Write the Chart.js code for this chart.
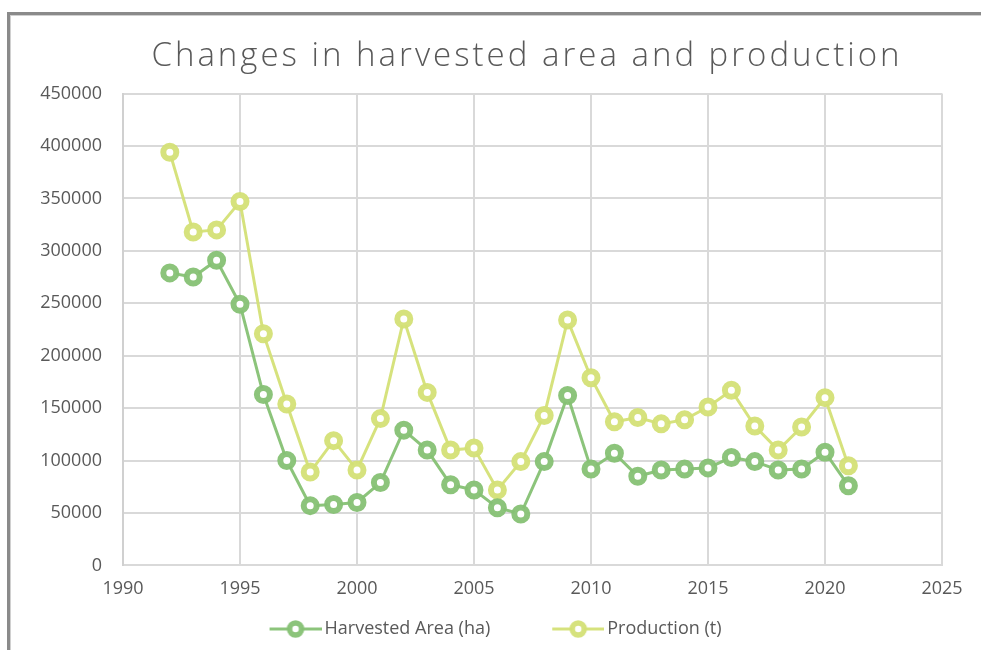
<!DOCTYPE html>
<html>
<head>
<meta charset="utf-8">
<script src="https://cdn.jsdelivr.net/npm/chart.js@4.4.1/dist/chart.umd.min.js"></script>
<style>
    html, body { margin: 0; padding: 0; background: #fff; }
    #wrap { position: relative; width: 981px; height: 650px; }
    #frame {
        position: absolute; left: 7px; top: 12px; right: 0; bottom: 0;
        border-top: 3px solid #8a8a8a; border-left: 3px solid #8a8a8a;
        box-shadow: inset 1px 1px 0 #d0d0d0;
        pointer-events: none;
    }
</style>
</head>
<body>
<div id="wrap">
    <canvas id="areaChart" width="981" height="650"></canvas>
    <div id="frame"></div>
</div>
<script>
var years = [1992, 1993, 1994, 1995, 1996, 1997, 1998, 1999, 2000, 2001,
    2002, 2003, 2004, 2005, 2006, 2007, 2008, 2009, 2010, 2011,
    2012, 2013, 2014, 2015, 2016, 2017, 2018, 2019, 2020, 2021];
var harvestedArea = [279000, 275000, 291000, 249000, 163000, 100000, 57000, 58000, 60000, 79000,
    129000, 110000, 77000, 72000, 55000, 49000, 99000, 162000, 92000, 107000,
    85000, 91000, 92000, 93000, 103000, 99000, 91000, 92000, 108000, 76000];
var production = [394000, 318000, 320000, 347000, 221000, 154000, 89000, 119000, 91000, 140000,
    235000, 165000, 110000, 112000, 72000, 99000, 143000, 234000, 179000, 137000,
    141000, 135000, 139000, 151000, 167000, 133000, 110000, 132000, 160000, 95000];
var xTicks = [1990, 1995, 2000, 2005, 2010, 2015, 2020, 2025];
var yTicks = [0, 50000, 100000, 150000, 200000, 250000, 300000, 350000, 400000, 450000];

var greenColor = 'rgba(134, 193, 116, 0.95)';
var yellowColor = 'rgba(212, 224, 118, 0.95)';
var textColor = '#595959';
var fontFamily = "'Open Sans', sans-serif";

function toPoints(values) {
    return years.map(function (y, i) { return { x: y, y: values[i] }; });
}

// legend icon: blank lead-in on the left, then a short line with a ring
function legendIcon(color) {
    var c = document.createElement('canvas');
    c.width = 113; c.height = 22;
    var g = c.getContext('2d');
    var x0 = c.width - 52;
    g.strokeStyle = color;
    g.lineWidth = 3;
    g.beginPath(); g.moveTo(x0, 11); g.lineTo(c.width, 11); g.stroke();
    g.beginPath(); g.arc(x0 + 26, 11, 6, 0, Math.PI * 2);
    g.fillStyle = '#fff'; g.fill();
    g.lineWidth = 5.5; g.stroke();
    return c;
}

// spreads and shifts the title text, nudges the legend row
var textTweaks = {
    id: 'textTweaks',
    beforeDraw: function (chart) {
        var tb = chart.titleBlock;
        if (tb && !tb._wrapped) {
            var drawTitle = tb.draw.bind(tb);
            tb.draw = function () {
                var c = tb.ctx;
                c.save();
                c.letterSpacing = '3px';
                c.translate(46, 0);
                drawTitle.apply(null, arguments);
                c.restore();
            };
            tb._wrapped = true;
        }
        var lg = chart.legend;
        if (lg && !lg._wrapped) {
            var drawLegend = lg.draw.bind(lg);
            lg.draw = function () {
                var c = lg.ctx;
                c.save();
                c.translate(-13, 0);
                drawLegend.apply(null, arguments);
                c.restore();
            };
            lg._wrapped = true;
        }
    }
};

var ctx = document.getElementById('areaChart').getContext('2d');
new Chart(ctx, {
    type: 'line',
    data: {
        datasets: [{
            label: 'Harvested Area (ha)',
            data: toPoints(harvestedArea),
            borderColor: greenColor,
            backgroundColor: '#ffffff',
            pointBackgroundColor: '#ffffff',
            pointBorderColor: greenColor,
            borderWidth: 3,
            pointRadius: 6.5,
            pointBorderWidth: 6,
            tension: 0
        }, {
            label: 'Production (t)',
            data: toPoints(production),
            borderColor: yellowColor,
            backgroundColor: '#ffffff',
            pointBackgroundColor: '#ffffff',
            pointBorderColor: yellowColor,
            borderWidth: 3,
            pointRadius: 6.5,
            pointBorderWidth: 6,
            tension: 0
        }]
    },
    options: {
        responsive: false,
        animation: false,
        layout: { padding: { left: 20, right: 39, top: 0, bottom: 2 } },
        scales: {
            x: {
                type: 'linear',
                min: xTicks[0],
                max: xTicks[xTicks.length - 1],
                afterBuildTicks: function (scale) {
                    scale.ticks = xTicks.map(function (v) { return { value: v }; });
                },
                ticks: {
                    color: textColor,
                    font: { family: fontFamily, size: 18 },
                    padding: 13,
                    maxRotation: 0,
                    callback: function (v) { return String(v); }
                },
                grid: { color: '#d9d9d9', lineWidth: 2, drawTicks: false },
                border: { color: '#d9d9d9', width: 2 }
            },
            y: {
                min: yTicks[0],
                max: yTicks[yTicks.length - 1],
                afterBuildTicks: function (scale) {
                    scale.ticks = yTicks.map(function (v) { return { value: v }; });
                },
                afterFit: function (scale) { scale.width = 103; },
                ticks: {
                    color: textColor,
                    font: { family: fontFamily, size: 18 },
                    padding: 21,
                    callback: function (v) { return String(v); }
                },
                grid: { color: '#d9d9d9', lineWidth: 2, drawTicks: false },
                border: { color: '#d0d0d0', width: 2 }
            }
        },
        plugins: {
            title: {
                display: true,
                text: 'Changes in harvested area and production',
                color: textColor,
                font: { family: fontFamily, size: 33, weight: '300' },
                padding: { top: 37, bottom: 17 }
            },
            legend: {
                position: 'bottom',
                labels: {
                    color: textColor,
                    font: { family: fontFamily, size: 18 },
                    usePointStyle: true,
                    pointStyleWidth: 101,
                    padding: 7,
                    generateLabels: function (chart) {
                        return chart.data.datasets.map(function (ds, i) {
                            return {
                                text: ds.label,
                                fontColor: textColor,
                                pointStyle: legendIcon(ds.borderColor),
                                datasetIndex: i,
                                hidden: false,
                                lineWidth: 0
                            };
                        });
                    }
                }
            },
            tooltip: { enabled: false }
        }
    },
    plugins: [textTweaks]
});
</script>
</body>
</html>
